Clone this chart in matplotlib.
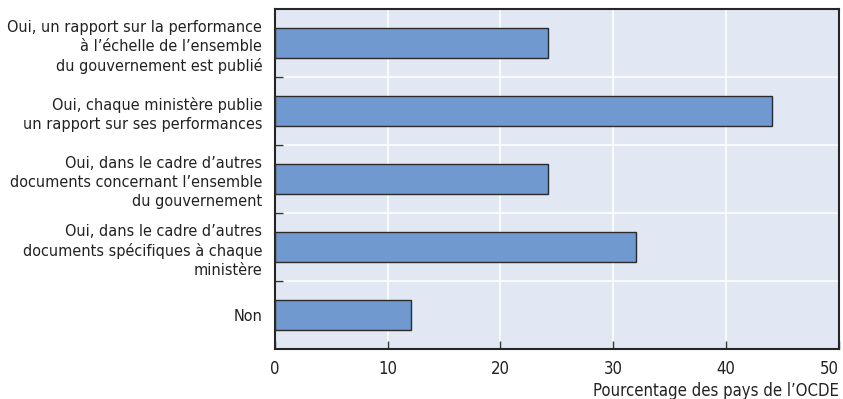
import matplotlib.pyplot as plt
import numpy as np

categories = [
    "Oui, un rapport sur la performance\nà l\u2019échelle de l\u2019ensemble\ndu gouvernement est publié",
    "Oui, chaque ministère publie\nun rapport sur ses performances",
    "Oui, dans le cadre d\u2019autres\ndocuments concernant l\u2019ensemble\ndu gouvernement",
    "Oui, dans le cadre d\u2019autres\ndocuments spécifiques à chaque\nministère",
    "Non",
]
values = [24.2, 44.1, 24.2, 32.0, 12.1]
xticks = [0, 10, 20, 30, 40, 50]

plt.rcParams['font.family'] = ['DejaVu Sans']
plt.rcParams['font.stretch'] = 'condensed'

fig = plt.figure(figsize=(8.43, 3.99), dpi=100)
ax = fig.add_axes([0.326, 0.125, 0.669, 0.852])

y = np.arange(len(categories))
ax.barh(y, values, height=0.44, color='#7099CF', edgecolor='#2b2b2b', linewidth=1.0, zorder=3)

ax.set_facecolor('#E1E7F3')
ax.set_xlim(0, 50)
ax.set_ylim(len(categories) - 0.5, -0.5)
ax.set_xticks(xticks)
ax.set_xticklabels([str(t) for t in xticks], fontsize=12, color='#222222')
ax.get_xticklabels()[-1].set_horizontalalignment('right')
ax.set_yticks(y)
ax.set_yticklabels(categories, fontsize=11.6, color='#222222', linespacing=1.32)
ax.set_yticks(np.arange(0.5, len(categories) - 1, 1), minor=True)

ax.tick_params(axis='y', which='major', length=0, pad=9)
ax.tick_params(axis='y', which='minor', direction='in', length=6, width=1, color='#333333')
ax.tick_params(axis='x', which='major', direction='in', length=6, width=1, color='#333333', pad=8)

ax.grid(axis='x', which='major', color='white', linewidth=1.2, zorder=1)
ax.grid(axis='y', which='minor', color='white', linewidth=1.2, zorder=1)
ax.set_axisbelow(True)

for s in ax.spines.values():
    s.set_color('#262626')
    s.set_linewidth(1.5)

ax.set_xlabel("Pourcentage des pays de l\u2019OCDE", fontsize=12, color='#222222', loc='right', labelpad=3)

fig.savefig('out.png', dpi=100)
